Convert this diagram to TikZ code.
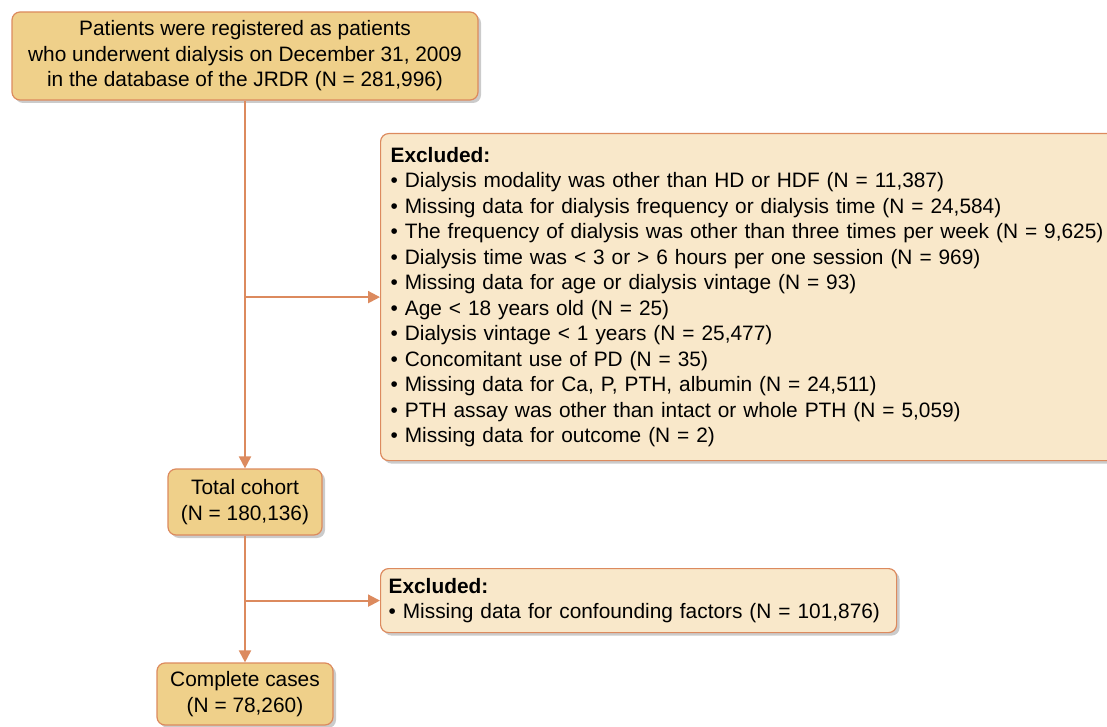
\documentclass[tikz,border=0pt]{standalone}
\usepackage{fontspec}
\setmainfont{Liberation Sans}
\usepackage{tikz}
\usetikzlibrary{shadows}
\usetikzlibrary{arrows.meta}
\definecolor{boxfill}{HTML}{EFD08A}
\definecolor{exfill}{HTML}{F9E8CA}
\definecolor{edge}{HTML}{DC8A5E}
\newcommand{\flowfont}{\fontsize{10.43}{12.75}\selectfont}
\tikzset{
  mainbox/.style={draw=edge,fill=boxfill,line width=.6pt,rounded corners=4pt,
    align=center,inner sep=0pt,font=\flowfont,
    drop shadow={shadow xshift=1.5pt,shadow yshift=-1.5pt,fill=black!45,opacity=.45}},
  exbox/.style={mainbox,fill=exfill,align=left,anchor=north west,inner xsep=5pt},
  arr/.style={draw=edge,line width=1pt,-{Triangle[length=6pt,width=6pt]}}
}
\begin{document}
\begin{tikzpicture}[x=0.5pt,y=-0.5pt]
				\useasboundingbox (0,0) rectangle (1107,727);
				\node[mainbox,minimum width=233pt,minimum height=44pt] (registered) at (245,56)
					{Patients were registered as patients\\
					 who underwent dialysis on December 31, 2009\\
					 in the database of the JRDR (N = 281,996)};
				\node[mainbox,minimum width=77pt,minimum height=33pt] (total) at (245,502)
					{Total cohort\\(N = 180,136)};
				\node[mainbox,minimum width=88pt,minimum height=31pt] (complete) at (245,694)
					{Complete cases\\(N = 78,260)};
				\node[exbox,text width=362.5pt,minimum height=163.5pt] (excl1) at (380,133)
					{\textbf{Excluded:}\\
					 • Dialysis modality was other than HD or HDF (N = 11,387)\\
					 • Missing data for dialysis frequency or dialysis time (N = 24,584)\\
					 • The frequency of dialysis was other than three times per week (N = 9,625)\\
					 • Dialysis time was < 3 or > 6 hours per one session (N = 969)\\
					 • Missing data for age or dialysis vintage (N = 93)\\
					 • Age < 18 years old (N = 25)\\
					 • Dialysis vintage < 1 years (N = 25,477)\\
					 • Concomitant use of PD (N = 35)\\
					 • Missing data for Ca, P, PTH, albumin (N = 24,511)\\
					 • PTH assay was other than intact or whole PTH (N = 5,059)\\
					 • Missing data for outcome (N = 2)};
				\node[exbox,inner xsep=4pt,text width=250pt,minimum height=32pt] (excl2) at (380,568)
					{\textbf{Excluded:}\\
					 • Missing data for confounding factors (N = 101,876)};
				% branch points on the main line
				\coordinate (split1) at (registered.south |- excl1.west);
				\coordinate (split2) at (total.south |- excl2.west);
				\draw[arr] (registered) -- (total);
				\draw[arr] (split1) -- (excl1.west);
				\draw[arr] (total) -- (complete);
				\draw[arr] (split2) -- (excl2.west);
\end{tikzpicture}
\end{document}
